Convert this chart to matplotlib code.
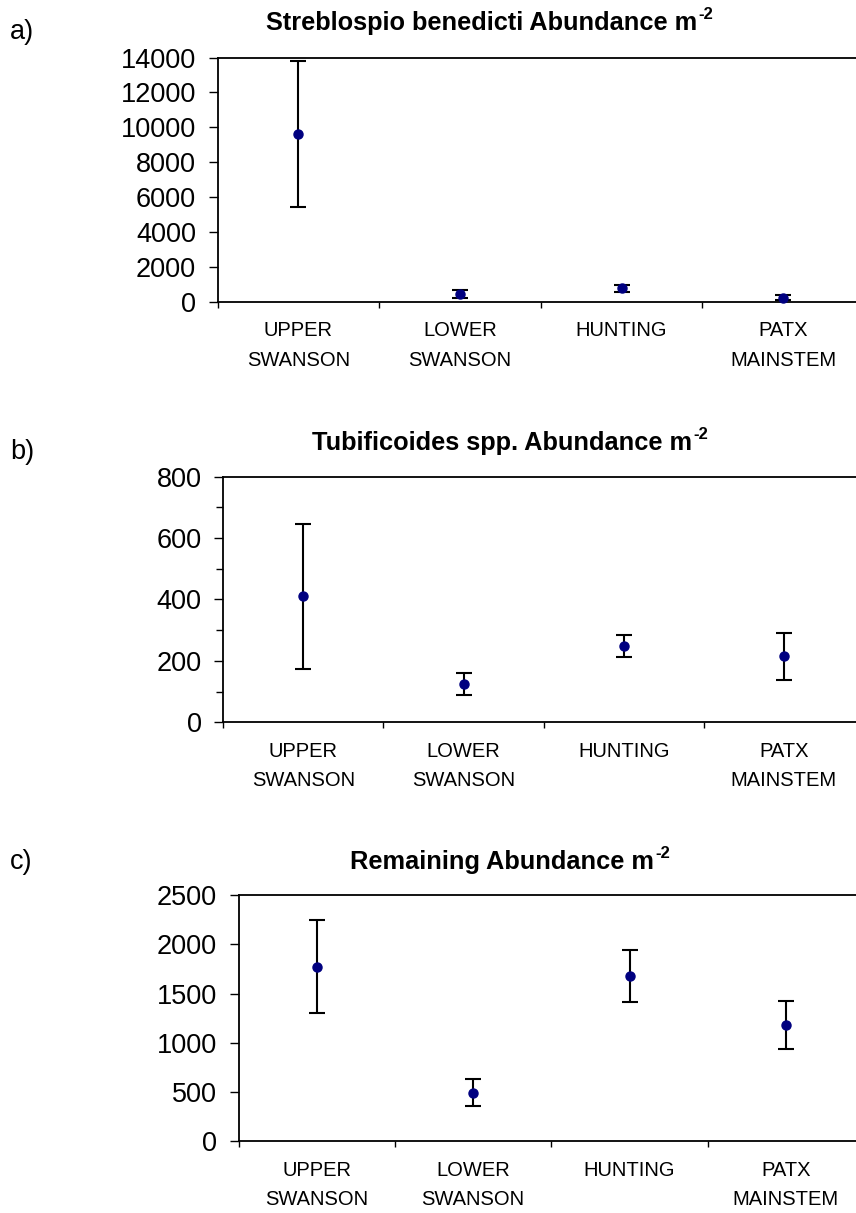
import matplotlib
matplotlib.use("Agg")
import matplotlib.pyplot as plt
from matplotlib.ticker import FixedLocator, MultipleLocator, NullFormatter

plt.rcParams['font.family'] = ['Liberation Sans', 'DejaVu Sans']

# ---- data ----
sites = ["UPPER\nSWANSON", "LOWER\nSWANSON", "HUNTING", "PATX\nMAINSTEM"]

strebl_mean = [9600, 436, 763, 225]
strebl_err = [4180, 237, 190, 155]

tubif_mean = [410, 125, 248, 215]
tubif_err = [237, 35, 35, 77]

remain_mean = [1775, 495, 1680, 1185]
remain_err = [475, 138, 266, 245]

titles = ["Streblospio benedicti Abundance m", "Tubificoides spp. Abundance m",
          "Remaining Abundance m"]
title_sup = "-2"
letters = ["a)", "b)", "c)"]

panels = [
    dict(mean=strebl_mean, err=strebl_err, ymax=14000, step=2000, minor=None,
         pos=[217.5, 57.5, 864, 301.7], tpos=(490, 23), lpos=(10, 32)),
    dict(mean=tubif_mean, err=tubif_err, ymax=800, step=200, minor=100,
         pos=[223.3, 476.7, 864, 722.3], tpos=(510, 443), lpos=(10, 452)),
    dict(mean=remain_mean, err=remain_err, ymax=2500, step=500, minor=None,
         pos=[238.7, 895.3, 864, 1141.3], tpos=(510, 862), lpos=(10, 862)),
]

W, H = 856, 1213
fig = plt.figure(figsize=(W / 100, H / 100), dpi=100)
fig.canvas.draw()
renderer = fig.canvas.get_renderer()

for k, p in enumerate(panels):
    x0, y0, x1, y1 = p["pos"]
    ax = fig.add_axes([x0 / W, 1 - y1 / H, (x1 - x0) / W, (y1 - y0) / H])
    xs = [i + 0.5 for i in range(len(sites))]
    ax.errorbar(xs, p["mean"], yerr=p["err"], fmt='o', color='#000080',
                markersize=6.5, ecolor='black', elinewidth=1.5, capsize=5.5,
                capthick=1.5, clip_on=False, zorder=3)
    ax.set_xlim(0, len(sites))
    ax.set_ylim(0, p["ymax"])
    ax.yaxis.set_major_locator(MultipleLocator(p["step"]))
    if p["minor"]:
        ax.yaxis.set_minor_locator(MultipleLocator(p["minor"]))
        ax.tick_params(axis='y', which='minor', length=5, width=1.0, direction='out')
    ax.tick_params(axis='y', which='major', length=6.5, width=1.0, direction='out',
                   labelsize=19.5, pad=9)
    ax.xaxis.set_major_locator(FixedLocator(xs))
    ax.set_xticklabels(sites, fontsize=14.5, linespacing=1.7)
    ax.xaxis.set_minor_locator(FixedLocator(list(range(len(sites) + 1))))
    ax.xaxis.set_minor_formatter(NullFormatter())
    ax.tick_params(axis='x', which='major', length=0, pad=14)
    ax.tick_params(axis='x', which='minor', length=4, width=1.0, direction='out')
    for name, s in ax.spines.items():
        s.set_linewidth(1.3)
    ax.spines['right'].set_visible(False)

    # title with superscript, centred as a whole on tpos
    tx, ty = p["tpos"]
    main = fig.text(0, 0, titles[k], fontsize=18.3, fontweight='bold', va='center')
    sup = fig.text(0, 0, title_sup, fontsize=12, fontweight='bold', va='bottom')
    wm = main.get_window_extent(renderer).width
    ws = sup.get_window_extent(renderer).width
    total = wm + ws + 1
    left = tx - total / 2
    main.set_position((left / W, 1 - ty / H))
    sup.set_position(((left + wm + 1) / W, 1 - (ty - 1) / H))

    lx, ly = p["lpos"]
    fig.text(lx / W, 1 - ly / H, letters[k], ha='left', va='center', fontsize=19.5)

fig.savefig("out.png", dpi=100)
